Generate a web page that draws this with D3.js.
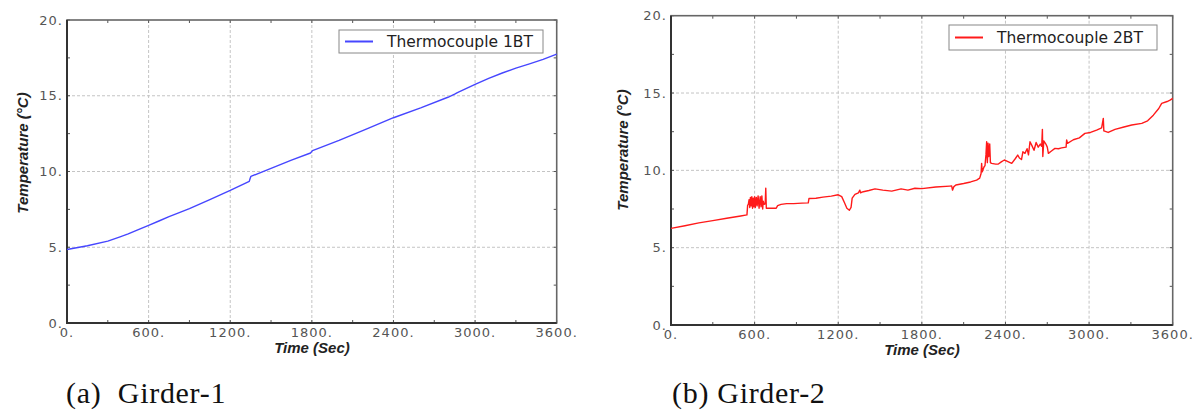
<!DOCTYPE html>
<meta charset="utf-8">
<style>
    body { margin: 0; background: #fff; }
    svg { display: block; }
    .tick-label { font-family: "DejaVu Sans", Verdana, sans-serif; font-size: 13px; fill: #555; letter-spacing: 1px; }
    .axis-title { font-family: "Liberation Sans", Arial, sans-serif; font-size: 15px; font-weight: bold; font-style: italic; fill: #222; }
    .legend-text { font-family: "DejaVu Sans", Verdana, sans-serif; font-size: 15.5px; fill: #222; }
    .caption { font-family: "Liberation Serif", "Times New Roman", serif; font-size: 30px; fill: #111; white-space: pre; letter-spacing: 0.7px; }
    .grid { stroke: #c4c4c4; stroke-width: 1; stroke-dasharray: 3,2; }
</style>
<body>
<svg width="1200" height="411"></svg>
<script src="https://cdnjs.cloudflare.com/ajax/libs/d3/7.8.5/d3.min.js"></script>
<script>
// ticks
var timeTicks = [0, 600, 1200, 1800, 2400, 3000, 3600];
var timeMinor = [300, 900, 1500, 2100, 2700, 3300];
var tempTicks = [0, 5, 10, 15, 20];
var tempMinor = [2.5, 7.5, 12.5, 17.5];

// Girder-1, thermocouple 1BT  [time (s), temperature (C)]
var girder1 = [
    [0, 4.85], [150, 5.1], [300, 5.4], [390, 5.68], [450, 5.88], [520, 6.15], [600, 6.45],
    [680, 6.75], [750, 7.02], [830, 7.3], [900, 7.55], [1050, 8.15], [1200, 8.75],
    [1340, 9.35], [1345, 9.5], [1352, 9.68], [1500, 10.2], [1650, 10.75], [1790, 11.22],
    [1805, 11.38], [2000, 12.05], [2200, 12.8], [2400, 13.55], [2600, 14.2], [2800, 14.9],
    [2850, 15.1], [2870, 15.2], [3000, 15.75], [3100, 16.15], [3200, 16.5], [3300, 16.82],
    [3400, 17.1], [3500, 17.4], [3600, 17.75]
];

// Girder-2, thermocouple 2BT
var girder2 = [
    [0, 6.25], [100, 6.42], [200, 6.6], [300, 6.75], [400, 6.9], [500, 7.05],
    [545, 7.12], [550, 7.75], [555, 7.8], [560, 8.1], [565, 7.6], [570, 8.25],
    [575, 7.7], [580, 8.3], [585, 7.55], [590, 8.2], [595, 7.65], [600, 8.3],
    [605, 7.6], [612, 8.25], [618, 7.7], [625, 8.35], [632, 7.55], [640, 8.3],
    [646, 7.65], [652, 8.35], [658, 7.5], [662, 8.0], [668, 7.8], [676, 7.85],
    [680, 8.85], [684, 7.55], [700, 7.55], [755, 7.55], [765, 7.72], [790, 7.8],
    [830, 7.85], [880, 7.85], [940, 7.88], [985, 7.9], [990, 8.18], [1040, 8.2],
    [1090, 8.27], [1150, 8.33], [1200, 8.42], [1225, 8.3], [1245, 7.9], [1262, 7.55],
    [1280, 7.42], [1292, 7.6], [1300, 8.2], [1320, 8.45], [1345, 8.55], [1355, 8.72],
    [1360, 8.55], [1380, 8.62], [1420, 8.7], [1464, 8.8], [1520, 8.72], [1584, 8.66],
    [1651, 8.8], [1700, 8.72], [1750, 8.84], [1800, 8.82], [1900, 8.92], [2000, 8.98],
    [2014, 8.99], [2020, 8.72], [2030, 8.95], [2044, 9.05], [2100, 9.15], [2150, 9.25],
    [2193, 9.37], [2215, 9.5], [2225, 9.8], [2229, 10.45], [2233, 9.9], [2245, 10.2],
    [2253, 10.3], [2260, 11.0], [2265, 11.85], [2270, 10.5], [2275, 11.75], [2280, 10.9],
    [2287, 11.7], [2292, 10.5], [2300, 10.45], [2330, 10.4], [2349, 10.41], [2370, 10.55],
    [2392, 10.67], [2410, 10.6], [2445, 10.45], [2470, 10.75], [2488, 10.99], [2500, 10.8],
    [2515, 10.7], [2525, 11.2], [2540, 11.1], [2555, 11.4], [2565, 11.0], [2576, 11.85],
    [2590, 11.6], [2605, 11.3], [2620, 11.8], [2635, 11.5], [2650, 11.7], [2660, 11.55],
    [2665, 12.65], [2668, 10.9], [2675, 11.9], [2690, 11.7], [2700, 11.5], [2708, 11.1],
    [2730, 11.25], [2755, 11.42], [2780, 11.4], [2803, 11.45], [2835, 11.5], [2839, 11.96],
    [2845, 11.75], [2887, 11.98], [2930, 12.1], [2970, 12.39], [3010, 12.45], [3054, 12.6],
    [3090, 12.75], [3102, 13.36], [3106, 12.55], [3137, 12.45], [3186, 12.65], [3250, 12.8],
    [3306, 12.93], [3378, 13.04], [3420, 13.2], [3461, 13.57], [3500, 14.0], [3521, 14.33],
    [3560, 14.45], [3581, 14.54], [3600, 14.65]
];

var svg = d3.select("svg");

var panels = [
    { data: girder1, color: "#4646ff", name: "Thermocouple 1BT", caption: "(a)\u00a0 Girder-1",
      left: 67, top: 20, right: 556.7, bottom: 323,
      legend: { x: 339, y: 30, w: 204, h: 23 }, yTitleX: 28, yTitleY: 153, xTitleX: 312, capX: 66 },
    { data: girder2, color: "#ff1a1a", name: "Thermocouple 2BT", caption: "(b) Girder-2",
      left: 671, top: 15.7, right: 1172.7, bottom: 325,
      legend: { x: 949, y: 25, w: 208, h: 25 }, yTitleX: 628, yTitleY: 150, xTitleX: 922, capX: 672 }
];

panels.forEach(drawPanel);

function drawPanel(p) {
    var x = d3.scaleLinear().domain([0, 3600]).range([p.left, p.right]);
    var y = d3.scaleLinear().domain([0, 20]).range([p.bottom, p.top]);
    var g = svg.append("g");

    // grid at major ticks
    g.selectAll(".gx").data(timeTicks.slice(1, -1)).enter().append("line")
        .attr("class", "grid")
        .attr("x1", function(d) { return x(d); }).attr("x2", function(d) { return x(d); })
        .attr("y1", p.top).attr("y2", p.bottom);
    g.selectAll(".gy").data(tempTicks.slice(1, -1)).enter().append("line")
        .attr("class", "grid")
        .attr("y1", function(d) { return y(d); }).attr("y2", function(d) { return y(d); })
        .attr("x1", p.left).attr("x2", p.right);

    // inner ticks on all four sides
    var allX = timeTicks.concat(timeMinor), allY = tempTicks.concat(tempMinor);
    [p.top, p.bottom].forEach(function(edge, i) {
        g.selectAll(null).data(allX).enter().append("line")
            .attr("x1", function(d) { return x(d); }).attr("x2", function(d) { return x(d); })
            .attr("y1", edge).attr("y2", edge + (i == 0 ? 3 : -3))
            .attr("stroke", "#555").attr("stroke-width", 1);
    });
    [p.left, p.right].forEach(function(edge, i) {
        g.selectAll(null).data(allY).enter().append("line")
            .attr("y1", function(d) { return y(d); }).attr("y2", function(d) { return y(d); })
            .attr("x1", edge).attr("x2", edge + (i == 0 ? 3 : -3))
            .attr("stroke", "#555").attr("stroke-width", 1);
    });

    // frame
    g.append("rect")
        .attr("x", p.left).attr("y", p.top)
        .attr("width", p.right - p.left).attr("height", p.bottom - p.top)
        .attr("fill", "none").attr("stroke", "#666").attr("stroke-width", 1.6);
    g.append("path")
        .attr("d", "M" + p.left + "," + p.top + "V" + p.bottom + "H" + p.right)
        .attr("fill", "none").attr("stroke", "#333").attr("stroke-width", 2);

    // data line
    var line = d3.line()
        .x(function(d) { return x(d[0]); })
        .y(function(d) { return y(d[1]); });
    g.append("path")
        .datum(p.data)
        .attr("d", line)
        .attr("fill", "none")
        .attr("stroke", p.color)
        .attr("stroke-width", 1.4)
        .attr("stroke-linejoin", "round");

    // tick labels
    g.selectAll(".xl").data(timeTicks).enter().append("text")
        .attr("class", "tick-label")
        .attr("x", function(d) { return x(d); })
        .attr("y", p.bottom + 14)
        .attr("text-anchor", "middle")
        .text(function(d) { return d + "."; });
    g.selectAll(".yl").data(tempTicks).enter().append("text")
        .attr("class", "tick-label")
        .attr("x", p.left - 4)
        .attr("y", function(d) { return y(d); })
        .attr("dy", "0.35em")
        .attr("text-anchor", "end")
        .text(function(d) { return d + "."; });

    // axis titles
    g.append("text")
        .attr("class", "axis-title")
        .attr("x", p.xTitleX).attr("y", p.bottom + 30)
        .attr("text-anchor", "middle")
        .text("Time (Sec)");
    g.append("text")
        .attr("class", "axis-title")
        .attr("transform", "translate(" + p.yTitleX + "," + p.yTitleY + ") rotate(-90)")
        .attr("text-anchor", "middle")
        .text("Temperature (°C)");

    // legend
    var L = p.legend;
    g.append("rect")
        .attr("x", L.x).attr("y", L.y).attr("width", L.w).attr("height", L.h)
        .attr("fill", "#fff").attr("stroke", "#888").attr("stroke-width", 1);
    g.append("line")
        .attr("x1", L.x + 6).attr("x2", L.x + 34)
        .attr("y1", L.y + L.h / 2).attr("y2", L.y + L.h / 2)
        .attr("stroke", p.color).attr("stroke-width", 2);
    g.append("text")
        .attr("class", "legend-text")
        .attr("x", L.x + 48).attr("y", L.y + L.h / 2)
        .attr("dy", "0.36em")
        .text(p.name);

    // caption
    g.append("text")
        .attr("class", "caption")
        .attr("x", p.capX).attr("y", 403)
        .text(p.caption);
}
</script>
</body>
